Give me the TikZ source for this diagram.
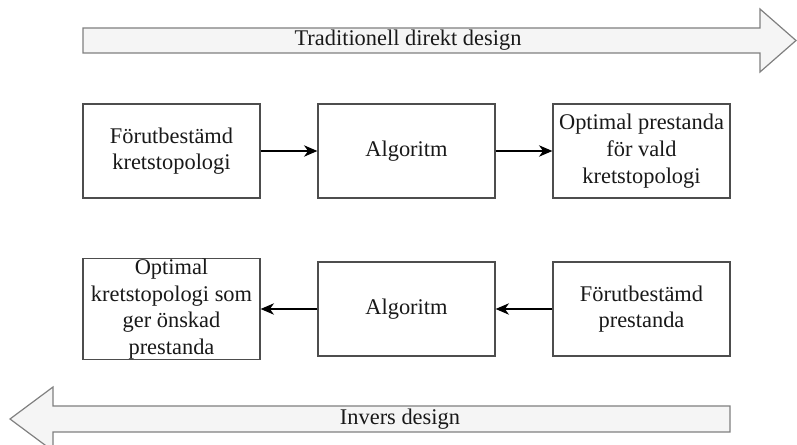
\documentclass[tikz,border=0pt]{standalone}
\usepackage{fontspec}
\setmainfont{Liberation Serif}
\usetikzlibrary{arrows.meta}
\definecolor{bigfill}{HTML}{F5F5F5}
\definecolor{bigline}{HTML}{808080}
\definecolor{boxline}{HTML}{4D4D4D}
\begin{document}
\begin{tikzpicture}[x=0.75pt,y=-0.75pt,
  txt/.style={font=\fontsize{16.8}{20}\selectfont, text=black!90},
  stepbox/.style={draw=boxline, line width=0.9pt, fill=white, minimum width=132.75pt, minimum height=70.5pt, inner sep=0pt, align=center, txt},
  bigarrow/.style={draw=bigline, fill=bigfill, line width=0.9pt, line join=miter},
  conn/.style={draw=black, line width=1.3pt, -{Stealth[length=10pt,width=8.5pt,inset=3pt]}}]
\clip (0,0) rectangle (797,445);
\fill[white] (0,0) rectangle (797,445);
% big arrows
\path[bigarrow] (83,28) -- (760,28) -- (760,9) -- (796,40.5) -- (760,72) -- (760,53) -- (83,53) -- cycle;
\node[txt, anchor=center] (toplabel) at (408,40.5) {Traditionell direkt design};
\path[bigarrow] (730,406) -- (53,406) -- (53,387) -- (10,419) -- (53,451) -- (53,432) -- (730,432) -- cycle;
\node[txt, anchor=center] (botlabel) at (400,419) {Invers design};
% boxes
\node[stepbox] (b1) at (171.5,151) {Förutbestämd\\kretstopologi};
\node[stepbox] (b2) at (406.5,151) {Algoritm};
\node[stepbox] (b3) at (641.5,151) {Optimal prestanda\\för vald\\kretstopologi};
\node[stepbox] (b4) at (171.5,309) {Optimal\\kretstopologi som\\ger önskad\\prestanda};
\node[stepbox] (b5) at (406.5,309) {Algoritm};
\node[stepbox] (b6) at (641.5,309) {Förutbestämd\\prestanda};
% connectors
\draw[conn] (b1) -- (b2);
\draw[conn] (b2) -- (b3);
\draw[conn] (b6) -- (b5);
\draw[conn] (b5) -- (b4);
\end{tikzpicture}
\end{document}
